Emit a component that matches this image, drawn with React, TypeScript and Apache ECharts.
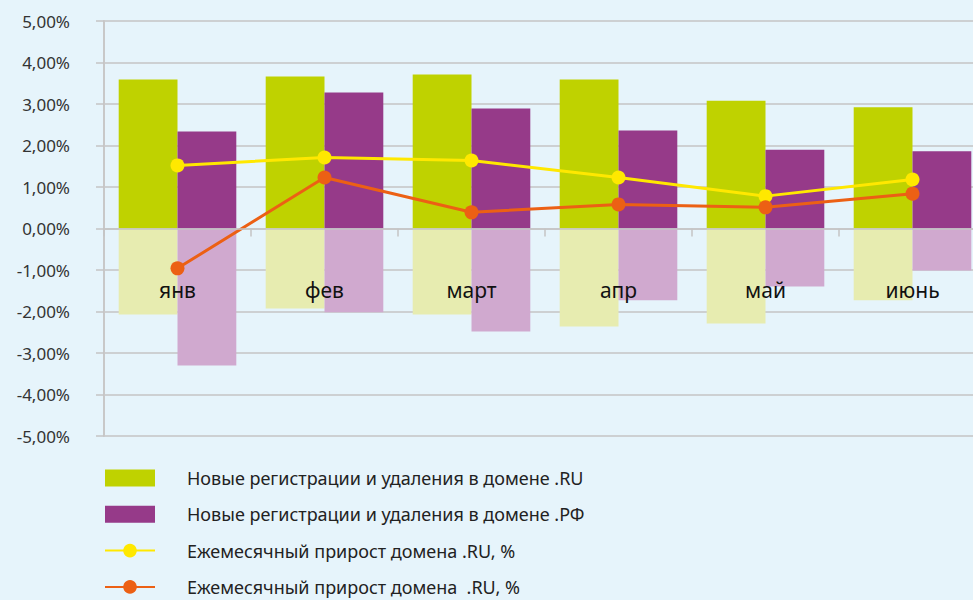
import React, { useEffect, useRef } from "react";
import * as echarts from "echarts";

const categories = ["янв", "фев", "март", "апр", "май", "июнь"];
const ruNew = [3.59, 3.66, 3.71, 3.59, 3.08, 2.92];
const ruDel = [-2.07, -1.93, -2.07, -2.36, -2.29, -1.73];
const rfNew = [2.34, 3.28, 2.89, 2.36, 1.9, 1.86];
const rfDel = [-3.3, -2.02, -2.48, -1.73, -1.4, -1.01];
const growthA = [1.52, 1.71, 1.64, 1.23, 0.78, 1.18];
const growthB = [-0.96, 1.23, 0.39, 0.58, 0.51, 0.84];

const NAME_RU = "Новые регистрации и удаления в домене .RU";
const NAME_RF = "Новые регистрации и удаления в домене .РФ";
const NAME_GA = "Ежемесячный прирост домена .RU, %";
const NAME_GB = "Ежемесячный прирост домена  .RU, %";

const FONT = "Noto Sans";

export default function App() {
  const ref = useRef<HTMLDivElement>(null);
  useEffect(() => {
    const chart = echarts.init(ref.current!, null, { renderer: "svg" });
    chart.setOption({
      animation: false,
      backgroundColor: "#e6f4fb",
      textStyle: { fontFamily: FONT },
      grid: { left: 104, top: 21, bottom: 164, right: 4, containLabel: false },
      legend: {
        orient: "vertical",
        left: 104,
        top: 469,
        padding: 0,
        height: 220,
        itemWidth: 50,
        itemHeight: 17,
        itemGap: 18.3,
        data: [
          { name: NAME_RU, icon: "rect" },
          { name: NAME_RF, icon: "rect" },
          NAME_GA,
          NAME_GB,
        ],
        textStyle: {
          fontFamily: FONT,
          fontSize: 18,
          color: "#222",
          padding: [0, 0, 0, 27],
        },
        selectedMode: false,
      },
      xAxis: {
        type: "category",
        data: categories,
        z: 10,
        axisLine: { onZero: true, lineStyle: { color: "#c4c4c4", width: 1.5 } },
        axisTick: { show: true, length: 8, lineStyle: { color: "#c4c4c4", width: 1.5 } },
        axisLabel: { margin: -157, fontSize: 21, color: "#111", fontFamily: FONT },
        splitLine: { show: false },
      },
      yAxis: {
        type: "value",
        min: -5,
        max: 5,
        interval: 1,
        axisLine: { show: true, lineStyle: { color: "#c8c8c8", width: 2 } },
        axisTick: { show: true, length: 8, lineStyle: { color: "#c4c4c4", width: 1.5 } },
        axisLabel: {
          margin: 34,
          fontSize: 17,
          color: "#333",
          fontFamily: FONT,
          formatter: (v: number) => v.toFixed(2).replace(".", ",") + "%",
        },
        splitLine: { show: true, lineStyle: { color: "#c4c4c4", width: 1.5 } },
      },
      series: [
        {
          name: NAME_RU,
          type: "bar",
          stack: "ru",
          data: ruNew,
          barGap: "0%",
          barCategoryGap: "20%",
          itemStyle: { color: "#bfd200" },
        },
        {
          name: "ru_del",
          type: "bar",
          stack: "ru",
          data: ruDel,
          itemStyle: { color: "#e7ecb0" },
        },
        {
          name: NAME_RF,
          type: "bar",
          stack: "rf",
          data: rfNew,
          itemStyle: { color: "#963a89" },
        },
        {
          name: "rf_del",
          type: "bar",
          stack: "rf",
          data: rfDel,
          itemStyle: { color: "#d0a9cf" },
        },
        {
          name: NAME_GA,
          type: "line",
          data: growthA,
          symbol: "circle",
          symbolSize: 14,
          z: 5,
          lineStyle: { color: "#ffe800", width: 3 },
          itemStyle: { color: "#ffe800" },
        },
        {
          name: NAME_GB,
          type: "line",
          data: growthB,
          symbol: "circle",
          symbolSize: 14,
          z: 5,
          lineStyle: { color: "#ec6014", width: 3 },
          itemStyle: { color: "#ec6014" },
        },
      ],
    });
    return () => chart.dispose();
  }, []);
  return (
    <div style={{ position: "fixed", left: 0, top: 0, width: 973, height: 600, overflow: "hidden", background: "#e6f4fb" }}>
      <div ref={ref} style={{ width: 990, height: 600 }} />
    </div>
  );
}
